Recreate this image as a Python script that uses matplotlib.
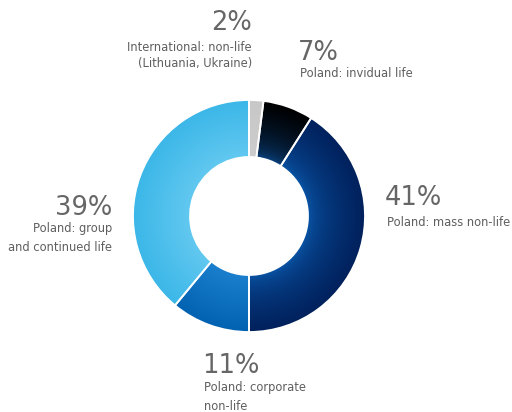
import numpy as np
import matplotlib.pyplot as plt
from matplotlib.colors import to_rgb

# --------------------
# data
# --------------------
shares = [2, 7, 41, 11, 39]
pct_labels = ['2%', '7%', '41%', '11%', '39%']
names = [['International: non-life', '(Lithuania, Ukraine)'],
         ['Poland: invidual life'],
         ['Poland: mass non-life'],
         ['Poland: corporate', 'non-life'],
         ['Poland: group', 'and continued life']]

# inner colour, outer colour, how fast it goes to the outer one
inner_cols = ['#cccccc', '#0d56a6', '#0b5db2', '#1b7fce', '#62c8f0']
outer_cols = ['#c8c8c8', '#000000', '#01215c', '#0262b2', '#3bb7e8']
gammas = [1.0, 0.35, 0.45, 1.0, 1.0]

# label placement (pixels, image coords)
lab_x = [252, 300, 387, 204, 112]
pct_base = [30, 60, 205, 373, 215]
name_y = [47, 73, 222, 387, 228]
line_step = [16.5, 19, 19, 19, 19]
lab_ha = ['right', 'left', 'left', 'left', 'right']

W, H = 512, 412
cx, cy = 249, 216
r_out, r_in = 116, 59

fig = plt.figure(figsize=(W / 100, H / 100), dpi=100)
ax = fig.add_axes([0, 0, 1, 1])

# --------------------
# donut
# --------------------
wedges, _ = ax.pie(shares, colors=['none'] * len(shares), startangle=90,
                   counterclock=False, radius=r_out, center=(cx, H - cy),
                   wedgeprops=dict(width=r_out - r_in, edgecolor='white',
                                   linewidth=1.3, zorder=3))

# radial gradient, clipped to each wedge
res = 400
gx = np.linspace(-r_out, r_out, res)
XX, YY = np.meshgrid(gx, gx)
t = np.clip((np.hypot(XX, YY) - r_in) / (r_out - r_in), 0, 1)
for w, ci, co, g in zip(wedges, inner_cols, outer_cols, gammas):
    a = np.array(to_rgb(ci))
    b = np.array(to_rgb(co))
    img = a + (b - a) * (t[..., None] ** g)
    im = ax.imshow(img, extent=(cx - r_out, cx + r_out, H - cy - r_out, H - cy + r_out),
                   origin='lower', interpolation='bilinear', zorder=1)
    im.set_clip_path(w)

# --------------------
# labels
# --------------------
for p, nm, x, yb, yn, st, ha in zip(pct_labels, names, lab_x, pct_base,
                                     name_y, line_step, lab_ha):
    ax.text(x - (2 if ha == 'left' else 0), H - yb, p, ha=ha, va='baseline',
            fontsize=18.5, color='#666666', family='DejaVu Sans')
    for i, line in enumerate(nm):
        ax.text(x, H - yn - i * st, line, ha=ha, va='center',
                fontsize=8.3, color='#5f5f5f', family='DejaVu Sans')

ax.set_xlim(0, W)
ax.set_ylim(0, H)
ax.set_aspect('equal')
ax.axis('off')

fig.savefig('out.png', dpi=100)
